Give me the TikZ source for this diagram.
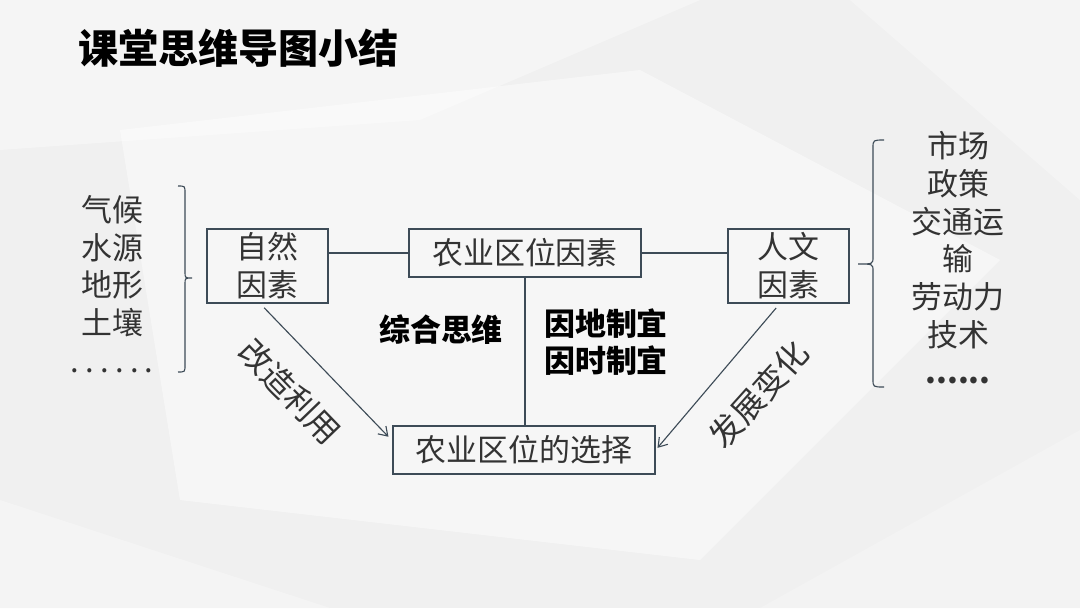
\documentclass[tikz,border=0pt]{standalone}
\usepackage{fontspec}
\setmainfont{Noto Sans CJK SC}
\usepackage{xcolor}
\usepackage{tikz}
\usetikzlibrary{arrows.meta, positioning}

\definecolor{boxline}{HTML}{3D4B57}
\definecolor{textgray}{HTML}{333333}
\definecolor{bggray}{HTML}{F0F0F0}

\newcommand{\spreaddots}{.\hspace{4.5pt}.\hspace{4.5pt}.\hspace{4.5pt}.\hspace{4.5pt}.\hspace{4.5pt}.}

\begin{document}
\begin{tikzpicture}[
    x=0.025cm, y=-0.025cm,
    box/.style={draw=boxline, line width=0.9pt, inner sep=0pt, align=center, text=textgray, font=\fontsize{22}{27}\selectfont},
    listtext/.style={align=center, inner sep=0pt, text=textgray, font=\fontsize{22}{26.8}\selectfont},
    boldtext/.style={align=center, inner sep=0pt, text=black, font=\fontsize{22}{26.8}\selectfont\bfseries},
    slanttext/.style={inner sep=0pt, text=textgray, font=\fontsize{23}{27}\selectfont},
    conn/.style={draw=boxline, line width=0.8pt},
    arrow/.style={conn, -{Straight Barb[length=6pt, width=8pt]}},
    brace/.style={draw=boxline, line width=0.8pt}
]
\useasboundingbox (0,0) rectangle (1080,608);

% background
\fill[bggray] (0,0) rectangle (1080,608);
\fill[white, opacity=0.45] (120,130) -- (640,70) -- (1000,260) -- (700,560) -- (180,500) -- cycle;
\fill[white, opacity=0.35] (0,0) -- (700,0) -- (420,120) -- (0,150) -- cycle;
\fill[gray!8, opacity=0.6] (760,608) -- (1080,430) -- (1080,608) -- cycle;
\fill[gray!6, opacity=0.6] (0,500) -- (330,608) -- (0,608) -- cycle;
\fill[white, opacity=0.3] (850,0) -- (1080,0) -- (1080,200) -- cycle;

% title
\node[anchor=west, inner sep=0pt, font=\fontsize{28.5}{34}\selectfont\bfseries] (title) at (78,48) {课堂思维导图小结};

% boxes
\node[box, minimum width=3.025cm, minimum height=1.85cm] (ziran)  at (267.5,266) {自然\\因素};
\node[box, minimum width=5.8cm,   minimum height=1.2cm]  (yinsu)  at (525,253)   {农业区位因素};
\node[box, minimum width=3.025cm, minimum height=1.85cm] (renwen) at (788.5,266) {人文\\因素};
\node[box, minimum width=6.55cm,  minimum height=1.2cm]  (xuanze) at (524,450)   {农业区位的选择};

% side lists
\node[listtext] (natlist) at (112,284) {气候\\水源\\地形\\土壤\\\spreaddots};
\node[listtext] (humlist) at (958,258) {市场\\政策\\交通运\\输\\劳动力\\技术\\\textbf{......}};

% brackets
\draw[brace] (178,186) .. controls (185,186) .. (185,193) -- (185,272) .. controls (185,278) .. (192,278)
             .. controls (185,278) .. (185,284) -- (185,365) .. controls (185,372) .. (178,372);
\draw[brace] (884,140) .. controls (873,140) .. (873,148) -- (873,257) .. controls (873,264) .. (858,264)
             .. controls (873,264) .. (873,271) -- (873,379) .. controls (873,387) .. (884,387);

% middle labels
\node[boldtext] (zonghe) at (441,330) {综合思维};
\node[boldtext] (yindi)  at (606,342) {因地制宜\\因时制宜};
\node[slanttext, rotate=-46] (gaizao) at (290,392) {改造利用};
\node[slanttext, rotate=48]  (fazhan) at (759,394) {发展变化};

% connectors
\draw[conn]  (ziran.east |- yinsu.west) -- (yinsu.west);
\draw[conn]  (yinsu.east) -- (renwen.west |- yinsu.east);
\draw[conn]  (yinsu.south) -- (xuanze.north -| yinsu.south);
\draw[arrow, shorten <=4pt, shorten >=4pt] (ziran.-101) -- (xuanze.176);
\draw[arrow, shorten <=4pt, shorten >=2pt] (renwen.-103) -- (xuanze.east);
\end{tikzpicture}
\end{document}
